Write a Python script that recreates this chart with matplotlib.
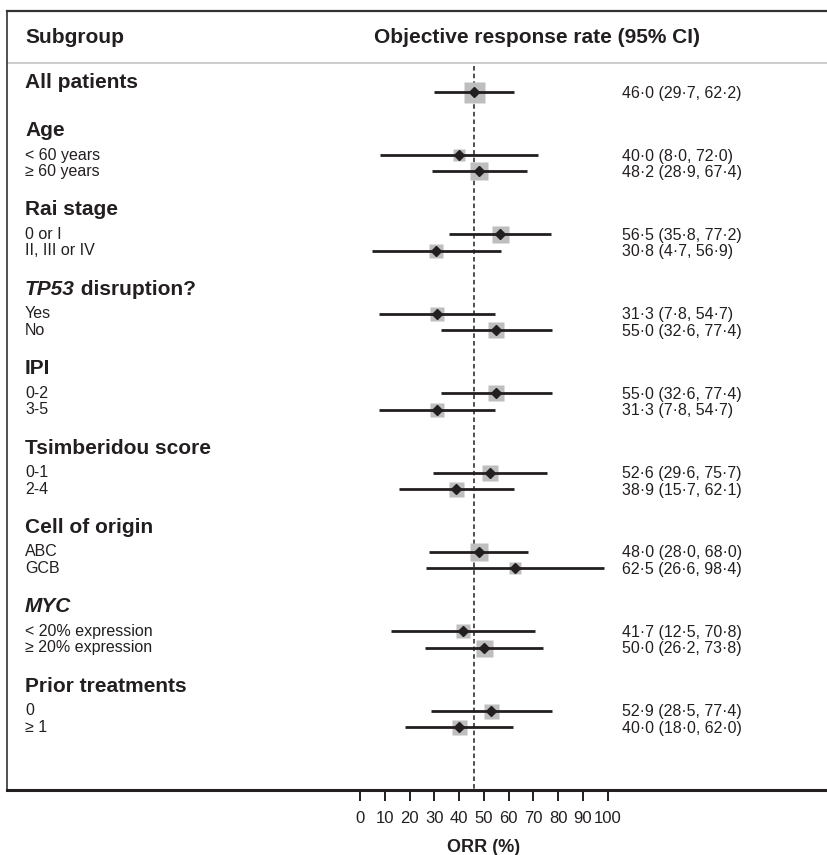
import matplotlib.pyplot as plt

plt.rcParams['font.family'] = ['Liberation Sans', 'DejaVu Sans']

# subgroup data: ORR with 95% CI
groups = ['All patients', 'Age', 'Rai stage', 'TP53 disruption?', 'IPI',
          'Tsimberidou score', 'Cell of origin', 'MYC', 'Prior treatments']
labels = [[''],
          ['< 60 years', '≥ 60 years'],
          ['0 or I', 'II, III or IV'],
          ['Yes', 'No'],
          ['0-2', '3-5'],
          ['0-1', '2-4'],
          ['ABC', 'GCB'],
          ['< 20% expression', '≥ 20% expression'],
          ['0', '≥ 1']]
orr = [[46.0], [40.0, 48.2], [56.5, 30.8], [31.3, 55.0], [55.0, 31.3],
       [52.6, 38.9], [48.0, 62.5], [41.7, 50.0], [52.9, 40.0]]
ci_lo = [[29.7], [8.0, 28.9], [35.8, 4.7], [7.8, 32.6], [32.6, 7.8],
         [29.6, 15.7], [28.0, 26.6], [12.5, 26.2], [28.5, 18.0]]
ci_hi = [[62.2], [72.0, 67.4], [77.2, 56.9], [54.7, 77.4], [77.4, 54.7],
         [75.7, 62.1], [68.0, 98.4], [70.8, 73.8], [77.4, 62.0]]
overall = 46.0

# box side in pixels (weights)
box_px = [[21], [12.5, 18], [17, 14], [14.5, 16], [16, 14.5],
          [16, 15], [18, 11.5], [14, 17], [15, 15]]

W, H = 827, 855
X0, K = 360, 2.475          # pixel of ORR 0, pixels per ORR unit
ink = '#231f20'


def px2x(px):
    return (px - X0) / K


fig = plt.figure(figsize=(W / 100, H / 100), dpi=100)
ax = fig.add_axes([7 / W, 1 - 790 / H, 1 - 7 / W, (790 - 11) / H])
ax.set_xlim(px2x(7), px2x(W))
ax.set_ylim(790, 11)

# header
ax.text(px2x(25), 37, 'Subgroup', fontsize=15, fontweight='bold', color=ink, va='center')
ax.text(px2x(537), 37, 'Objective response rate (95% CI)', fontsize=15,
        fontweight='bold', color=ink, va='center', ha='center')
ax.axhline(63, color='#c8c8c8', lw=1.3)

# reference line at overall ORR
ax.plot([overall, overall], [66, 790], color=ink, lw=1.1, ls=(0, (3, 2)), zorder=1)

for g, name in enumerate(groups):
    if g == 0:
        head_y = 82
        row_y = [92]
    else:
        first = 155 + 79.4 * (g - 1)
        head_y = first - 24.5
        row_y = [first, first + 16.5]

    if name.startswith('TP53') or name == 'MYC':
        it = name.split(' ')[0]
        rest = name[len(it):]
        t = ax.text(px2x(25), head_y, it, fontsize=15, fontweight='bold',
                    style='italic', color=ink, va='center')
        if rest:
            ax.annotate(rest, xy=(1, 0.5), xycoords=t, fontsize=15, fontweight='bold',
                        color=ink, va='center', ha='left')
    else:
        ax.text(px2x(25), head_y, name, fontsize=15, fontweight='bold', color=ink, va='center')

    for i, y in enumerate(row_y):
        v, lo, hi = orr[g][i], ci_lo[g][i], ci_hi[g][i]
        if labels[g][i]:
            ax.text(px2x(25), y, labels[g][i], fontsize=11.5, color=ink, va='center')
        ax.plot(v, y, marker='s', ms=box_px[g][i] * 0.72, mfc='#bebebe', mec='none', zorder=2)
        ax.plot([lo, hi], [y, y], color=ink, lw=2, solid_capstyle='butt', zorder=3)
        ax.plot(v, y, marker='D', ms=5.5, color=ink, mec=ink, zorder=4)
        txt = f'{v:.1f} ({lo:.1f}, {hi:.1f})'.replace('.', '·')
        ax.text(px2x(622), y + 1, txt, fontsize=11.5, color=ink, va='center')

# frame
ax.spines['right'].set_visible(False)
ax.spines['top'].set_color('#333333')
ax.spines['top'].set_linewidth(1.6)
ax.spines['left'].set_color('#333333')
ax.spines['left'].set_linewidth(1.2)
ax.spines['bottom'].set_color(ink)
ax.spines['bottom'].set_linewidth(2.2)

ax.set_yticks([])
ax.set_xticks(range(0, 101, 10))
ax.tick_params(axis='x', direction='out', length=8, width=1.4, color=ink,
               labelsize=12, labelcolor=ink, pad=7)
ax.set_xlabel('ORR (%)', fontsize=13, fontweight='bold', color=ink)
ax.xaxis.set_label_coords((483.5 - 7) / (W - 7), -(847 - 790) / (790 - 11))
ax.xaxis.label.set_va('center')

fig.savefig('out.png', dpi=100)
